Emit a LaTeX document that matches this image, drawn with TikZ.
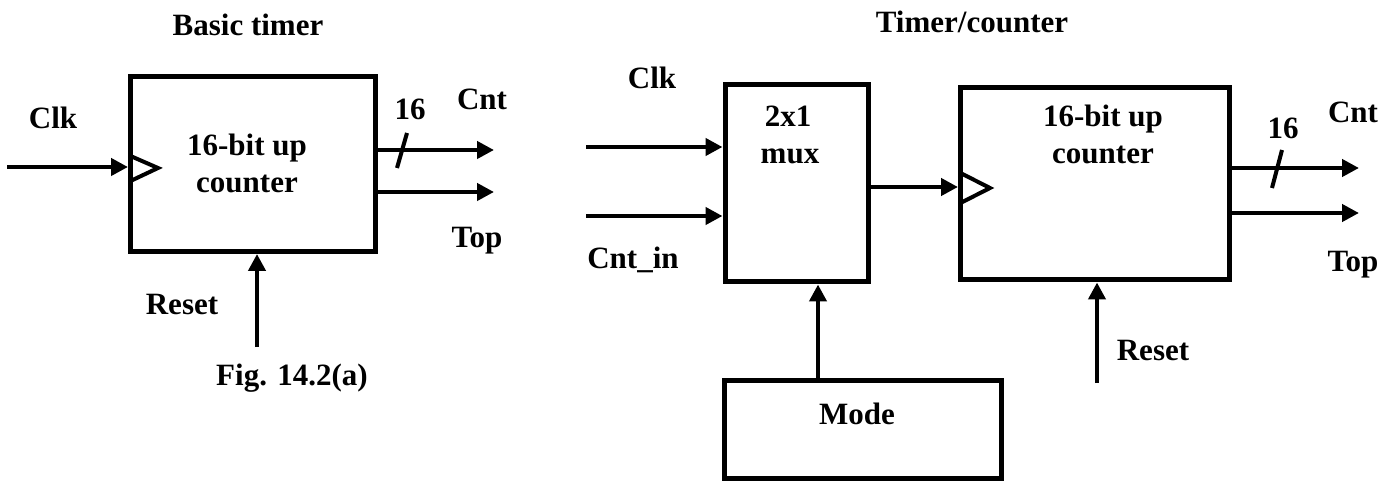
\documentclass[tikz,border=0pt]{standalone}
\usepackage{fontspec}
\setmainfont{Liberation Serif}
\usetikzlibrary{arrows.meta}
\begin{document}
\begin{tikzpicture}[x=1pt,y=-1pt,
  box/.style={draw,line width=5pt,inner sep=0pt,rectangle},
  wire/.style={line width=4pt},
  arr/.style={line width=4.2pt,-{Triangle[length=17pt,width=17pt]}},
  lbl/.style={font=\fontsize{31}{35}\selectfont\bfseries,inner sep=0pt,anchor=base}]
\useasboundingbox (0,0) rectangle (1393,481);
% ---------- Basic timer ----------
\node[box,minimum width=245pt,minimum height=175pt] (b1) at (253,164) {};
\node[lbl] (tb) at (248,36) {Basic timer};
\node[lbl] (b1a) at (247,156) {16-bit up};
\node[lbl] (b1b) at (247,193) {counter};
\node[lbl] (clk1) at (53,129) {Clk};
\node[lbl] (n1) at (410,120) {16};
\node[lbl] (cnt1) at (482,110) {Cnt};
\node[lbl] (top1) at (477,248) {Top};
\node[lbl] (rst1) at (182,315) {Reset};
\node[lbl] (fig) at (292,385) {Fig. 14.2(a)};
\coordinate (ci1) at (7,167);
\coordinate (co1) at (494,150);
\coordinate (to1) at (494,192);
\coordinate (ri1) at (257,347);
\draw[arr] (ci1) -- (ci1 -| b1.west);
\draw[wire,line join=miter] (130.5,156) -- (158,168) -- (130.5,181);
\draw[arr] (co1 -| b1.east) -- (co1);
\draw[arr] (to1 -| b1.east) -- (to1);
\draw[wire] (397,168) -- (407,133);
\draw[arr] (ri1) -- (ri1 |- b1.south);
% ---------- Timer/counter ----------
\node[lbl] (tc) at (972,33) {Timer/counter};
\node[box,minimum width=143.7pt,minimum height=197pt] (mux) at (796.85,183.5) {};
\node[lbl] (mxa) at (788,127) {2x1};
\node[lbl] (mxb) at (790,164) {mux};
\node[box,minimum width=268.5pt,minimum height=192.5pt] (ctr) at (1094.75,183.75) {};
\node[lbl] (cta) at (1103,127) {16-bit up};
\node[lbl] (ctb) at (1103,164) {counter};
\node[box,minimum width=277pt,minimum height=98pt] (mode) at (863,429.5) {};
\node[lbl] (modet) at (857,424) {Mode};
\node[lbl] (clk2) at (652,89) {Clk};
\node[lbl] (cin) at (633,269) {Cnt\_in};
\node[lbl] (n2) at (1283,139) {16};
\node[lbl] (cnt2) at (1353,123) {Cnt};
\node[lbl] (top2) at (1353,272) {Top};
\node[lbl] (rst2) at (1153,360) {Reset};
\coordinate (ci2) at (586,147);
\coordinate (ci3) at (586,216);
\coordinate (mq) at (0,187);
\coordinate (mx) at (818,0);
\coordinate (co2) at (1359,168);
\coordinate (to2) at (1359,213);
\coordinate (ri2) at (1097,383);
\draw[arr] (ci2) -- (ci2 -| mux.west);
\draw[arr] (ci3) -- (ci3 -| mux.west);
\draw[arr] (mq -| mux.east) -- (mq -| ctr.west);
\draw[wire,line join=miter] (960.5,173) -- (990,188) -- (960.5,203);
\draw[arr] (mode.north -| mx) -- (mux.south -| mx);
\draw[arr] (co2 -| ctr.east) -- (co2);
\draw[arr] (to2 -| ctr.east) -- (to2);
\draw[wire] (1272,188) -- (1282,150);
\draw[arr] (ri2) -- (ri2 |- ctr.south);
\end{tikzpicture}
\end{document}
